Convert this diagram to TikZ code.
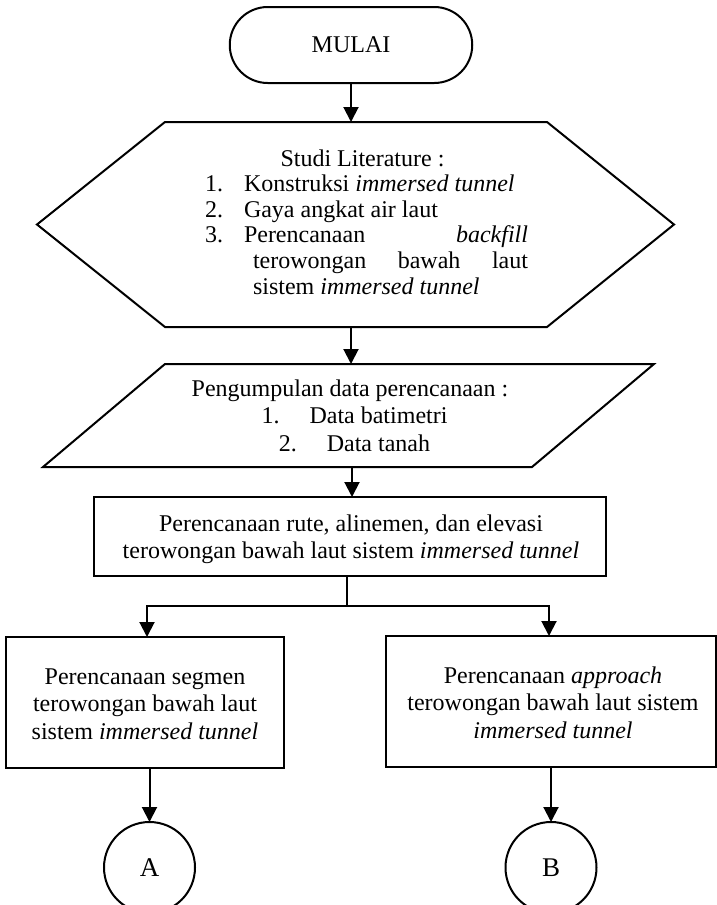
\documentclass[tikz,border=0pt]{standalone}
\usepackage{fontspec}
\setmainfont{Liberation Serif}
\usetikzlibrary{arrows.meta,calc}
\begin{document}
\begin{tikzpicture}[x=0.5pt,y=-0.5pt,
  every node/.style={font=\fontsize{12pt}{13.75pt}\selectfont, inner sep=0pt, outer sep=0pt},
  ln/.style={line width=1pt},
  arr/.style={line width=1pt,-{Triangle[length=7.5pt,width=7.5pt]}},
  frame/.style={draw, line width=1pt, rectangle},
  ghost/.style={rectangle},
  txt/.style={anchor=base},
  conn/.style={draw, line width=1pt, circle, minimum size=45.5pt, font=\fontsize{13.5pt}{15pt}\selectfont}
]
\useasboundingbox (0,0) rectangle (717,905);

% terminator
\node[draw, line width=1pt, rounded corners=19pt, minimum width=121.25pt, minimum height=38pt] (start) at (351,45) {MULAI};

% hexagon
\node[ghost, minimum width=318.5pt, minimum height=102.5pt] (hex) at (355.5,224.5) {};
\draw[ln, line join=miter] (hex.west) -- ($(hex.north west)+(128,0)$) -- ($(hex.north east)+(-127,0)$) -- (hex.east)
  -- ($(hex.south east)+(-127,0)$) -- ($(hex.south west)+(128,0)$) -- cycle;
\node[txt] (hextxt) at (366.5,166) {\parbox[t]{161.5pt}{\fontsize{12pt}{12.8pt}\selectfont
{\centering\hspace*{-4pt}Studi Literature :\par}
\makebox[19.5pt][l]{1.}Konstruksi \textit{immersed tunnel}\par
\makebox[19.5pt][l]{2.}Gaya angkat air laut\par
\makebox[19.5pt][l]{3.}Perencanaan\hfill\textit{backfill}\par
\hspace*{24pt}terowongan\hfill bawah\hfill laut\par
\hspace*{24pt}sistem \textit{immersed tunnel}\par}};

% parallelogram
\node[ghost, minimum width=305.5pt, minimum height=51.5pt] (para) at (348.5,415.5) {};
\draw[ln, line join=miter] (para.south west) -- ($(para.north west)+(122,0)$) -- (para.north east)
  -- ($(para.south east)+(-122,0)$) -- cycle;
\node[txt] (paratxt) at (350,396) {\parbox[t]{200pt}{\centering
Pengumpulan data perencanaan :\\
\hspace*{4.5pt}1.\hspace{15pt}Data batimetri\\
\hspace*{4.5pt}2.\hspace{15pt}Data tanah}};

% route planning
\node[frame, minimum width=256pt, minimum height=39.5pt] (plan) at (350,536.5) {};
\node[txt] (plantxt) at (351,531) {\parbox[t]{250pt}{\fontsize{12pt}{13.5pt}\selectfont\centering
Perencanaan rute, alinemen, dan elevasi\\
terowongan bawah laut sistem \textit{immersed tunnel}}};

% segment box
\node[frame, minimum width=139pt, minimum height=65.5pt] (seg) at (145,702.5) {};
\node[txt] (segtxt) at (145,684) {\parbox[t]{135pt}{\centering
Perencanaan segmen\\
terowongan bawah laut\\
sistem \textit{immersed tunnel}}};

% approach box
\node[frame, minimum width=165.25pt, minimum height=65.5pt] (app) at (550.75,701.5) {};
\node[txt] (apptxt) at (553,683.3) {\parbox[t]{160pt}{\centering
Perencanaan \textit{approach}\\
terowongan bawah laut sistem\\
\textit{immersed tunnel}}};

% off-page connectors
\node[conn] (A) at (149.5,867.5) {A};
\node[conn] (B) at (551,867.5) {B};

% junction points
\coordinate (j) at (347,606);
\coordinate (jl) at (147,606);
\coordinate (jr) at (549,606);

% arrows
\draw[arr] (start.south) -- (start.south |- hex.north);
\draw[arr] (start.south |- hex.south) -- (start.south |- para.north);
\draw[arr] (352,0 |- para.south) -- (352,0 |- plan.north);
\draw[ln] (j |- plan.south) -- (j);
\draw[arr] (j) -| (jl |- seg.north);
\draw[arr] (j) -| (jr |- app.north);
\draw[arr] (A.north |- seg.south) -- (A.north);
\draw[arr] (B.north |- app.south) -- (B.north);
\end{tikzpicture}
\end{document}
